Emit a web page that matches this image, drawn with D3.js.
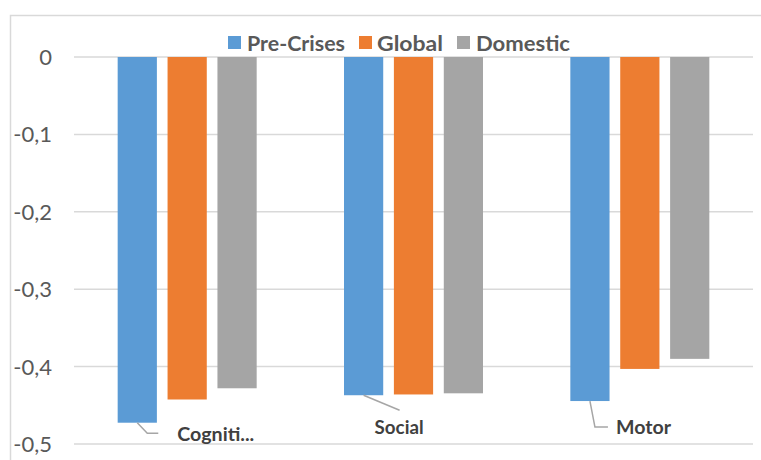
<!DOCTYPE html>
<html><head><meta charset="utf-8">
<script src="https://cdn.jsdelivr.net/npm/d3@7"></script>
<style>body{margin:0;background:#fff}svg{display:block}</style>
</head><body>
<svg id="c" width="761" height="460"></svg>
<script>
const categories = ["Cogniti...", "Social", "Motor"];
const seriesNames = ["Pre-Crises", "Global", "Domestic"];
const preCrises = [-0.4725, -0.437, -0.4445];
const globalVals = [-0.4425, -0.436, -0.403];
const domestic = [-0.428, -0.4345, -0.390];
const yTicks = [0, -0.1, -0.2, -0.3, -0.4, -0.5];
const yTickLabels = ["0", "-0,1", "-0,2", "-0,3", "-0,4", "-0,5"];

const colors = ["#5B9BD5", "#ED7D31", "#A5A5A5"];
const seriesVals = [preCrises, globalVals, domestic];
const font = "Lato, 'Open Sans', sans-serif";

const svg = d3.select("#c");
// chart border
svg.append("path").attr("d","M10.5,460 V15.5 H761").attr("fill","none").attr("stroke","#d9d9d9").attr("stroke-width",1.5);

const x0 = d3.scaleBand().domain(categories).range([74, 753]).padding(0);
const groupW = 139;
const x1 = d3.scaleBand().domain(seriesNames).range([-groupW/2, groupW/2]).paddingInner(0.214).paddingOuter(0);
const y = d3.scaleLinear().domain([-0.5, 0]).range([444, 57]);

// gridlines
svg.append("g").selectAll("line").data(yTicks).join("line")
  .attr("x1", 74).attr("x2", 753)
  .attr("y1", d => y(d)).attr("y2", d => y(d))
  .attr("stroke", "#d9d9d9").attr("stroke-width", 1.5);

// y labels
svg.append("g").selectAll("text").data(yTicks).join("text")
  .attr("x", 52).attr("y", d => y(d)).attr("dy", "0.36em")
  .attr("text-anchor", "end").attr("font-family", font).attr("font-size", 22)
  .attr("fill", "#595959").text((d, i) => yTickLabels[i]);

// bars
seriesNames.forEach((s, si) => {
  svg.append("g").selectAll("rect").data(categories).join("rect")
    .attr("x", c => x0(c) + x0.bandwidth()/2 + x1(s))
    .attr("width", x1.bandwidth())
    .attr("y", y(0))
    .attr("height", (c, i) => y(seriesVals[si][i]) - y(0))
    .attr("fill", colors[si]);
});

// category labels with leader lines (attached to first series bars)
const labelLayout = [
  {leader: [[0,0],[10,10.5],[21,10.5]], lx: 40, ly: 11, w: 77},
  {leader: [[0,0],[36,15]], lx: 11, ly: 32, w: 49},
  {leader: [[0,0],[5,26],[18,26]], lx: 26, ly: 26, w: 55}
];
categories.forEach((c, i) => {
  const bx = x0(c) + x0.bandwidth()/2 + x1(seriesNames[0]) + x1.bandwidth()/2;
  const by = y(preCrises[i]);
  const L = labelLayout[i];
  svg.append("path")
    .attr("d", d3.line()(L.leader.map(p => [bx + p[0], by + p[1]])))
    .attr("fill", "none").attr("stroke", "#a6a6a6").attr("stroke-width", 1.5);
  svg.append("text").attr("x", bx + L.lx).attr("y", by + L.ly).attr("dy", "0.36em")
    .attr("font-family", font).attr("font-weight", "bold")
    .attr("font-size", 19).attr("fill", "#404040")
    .attr("textLength", L.w).attr("lengthAdjust", "spacingAndGlyphs").text(c);
});

// legend
const legendItems = [
  {sx: 228, tx: 247, w: 98},
  {sx: 359, tx: 377, w: 66},
  {sx: 457, tx: 476, w: 94}
];
seriesNames.forEach((s, i) => {
  const g = svg.append("g");
  g.append("rect").attr("x", legendItems[i].sx).attr("y", 36).attr("width", 13).attr("height", 13).attr("fill", colors[i]);
  g.append("text").attr("x", legendItems[i].tx).attr("y", 43).attr("dy", "0.36em")
    .attr("font-family", font).attr("font-weight", "bold").attr("font-size", 21)
    .attr("fill", "#595959").attr("textLength", legendItems[i].w).attr("lengthAdjust", "spacingAndGlyphs").text(s);
});
</script>
</body></html>
